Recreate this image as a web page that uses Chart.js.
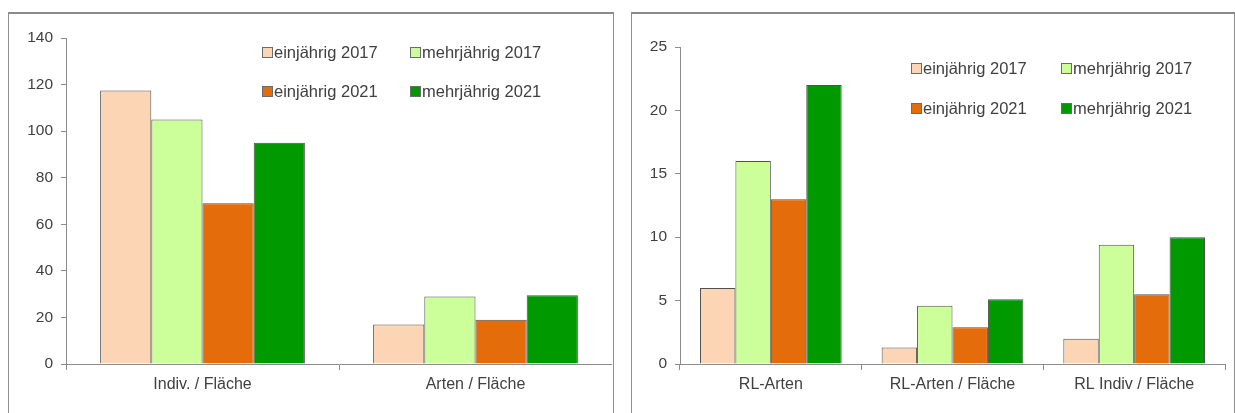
<!DOCTYPE html>
<html>
<head>
<meta charset="utf-8">
<script src="https://cdn.jsdelivr.net/npm/chart.js@4"></script>
<style>
  html, body { margin: 0; padding: 0; background: #fff; width: 1235px; height: 413px; overflow: hidden; }
  .frame { position: absolute; border: 1px solid #8f8f8f; border-top: 2px solid #8a8a8a; background: #fff; }
  .cv { position: absolute; }
  .legend { position: absolute; font-family: "Liberation Sans", Arial, sans-serif; font-size: 16.5px; color: #404040; }
  .legend .item { position: absolute; white-space: nowrap; display: flex; align-items: center; line-height: 20px; }
  .legend .box { width: 9px; height: 9px; border: 1px solid #6b6b6b; margin-right: 1px; }
</style>
</head>
<body>
<div class="frame" style="left:8px; top:12px; width:604px; height:420px;"></div>
<div class="frame" style="left:631px; top:12px; width:602px; height:420px;"></div>
<div class="cv" style="left:10px; top:14px; width:602px; height:400px;"><canvas id="c1"></canvas></div>
<div class="cv" style="left:633px; top:14px; width:600px; height:400px;"><canvas id="c2"></canvas></div>
<div class="legend" id="lg1"></div>
<div class="legend" id="lg2"></div>
<script>
// ---- data ----
const seriesNames = ["einjährig 2017", "mehrjährig 2017", "einjährig 2021", "mehrjährig 2021"];
const seriesColors = ["#FCD5B5", "#CCFF99", "#E46C0A", "#009900"];

const leftCategories = ["Indiv. / Fläche", "Arten / Fläche"];
const leftEinj2017 = [117.5, 17];
const leftMehr2017 = [105, 29];
const leftEinj2021 = [69, 19];
const leftMehr2021 = [95, 29.5];
const leftTicks = [0, 20, 40, 60, 80, 100, 120, 140];

const rightCategories = ["RL-Arten", "RL-Arten / Fläche", "RL Indiv / Fläche"];
const rightEinj2017 = [6, 1.3, 2];
const rightMehr2017 = [16, 4.6, 9.4];
const rightEinj2021 = [13, 2.9, 5.5];
const rightMehr2021 = [22, 5.1, 10];
const rightTicks = [0, 5, 10, 15, 20, 25];

const FONT = "'Liberation Sans', Arial, sans-serif";

function makeDatasets(arrs, catPct) {
  return arrs.map((d, i) => ({
    label: seriesNames[i],
    data: d,
    backgroundColor: seriesColors[i],
    borderColor: "#505050",
    borderWidth: 1,
    borderSkipped: "bottom",
    categoryPercentage: catPct,
    barPercentage: 1.0
  }));
}

function makeChart(id, cats, arrs, ticks, yWidth, pad, catPct) {
  const max = ticks[ticks.length - 1];
  const step = ticks[1] - ticks[0];
  return new Chart(document.getElementById(id), {
    type: "bar",
    data: { labels: cats, datasets: makeDatasets(arrs, catPct) },
    options: {
      responsive: true,
      maintainAspectRatio: false,
      animation: false,
      devicePixelRatio: 1,
      layout: { padding: pad },
      plugins: { legend: { display: false }, tooltip: { enabled: false } },
      scales: {
        x: {
          grid: { display: true, drawOnChartArea: false, drawTicks: true, tickLength: 6, color: "#8c8c8c", offset: true },
          border: { display: true, color: "#8c8c8c", width: 1 },
          ticks: { color: "#404040", font: { family: FONT, size: 16 }, padding: 5 },
          afterFit: s => { s.height = 50; }
        },
        y: {
          min: 0, max: max,
          grid: { display: true, drawOnChartArea: false, drawTicks: true, tickLength: 5, color: "#8c8c8c" },
          border: { display: true, color: "#8c8c8c", width: 1 },
          ticks: { stepSize: step, color: "#404040", font: { family: FONT, size: 15.5 }, padding: 8,
                   callback: v => ticks.includes(v) ? String(v) : null },
          afterFit: s => { s.width = yWidth; }
        }
      }
    }
  });
}

makeChart("c1", leftCategories, [leftEinj2017, leftMehr2017, leftEinj2021, leftMehr2021],
          leftTicks, 56, { top: 24, right: 0, left: 0, bottom: 0 }, 0.75);
makeChart("c2", rightCategories, [rightEinj2017, rightMehr2017, rightEinj2021, rightMehr2021],
          rightTicks, 47, { top: 33, right: 8, left: 0, bottom: 0 }, 0.78);

function buildLegend(id, positions) {
  const el = document.getElementById(id);
  seriesNames.forEach((name, i) => {
    const it = document.createElement("div");
    it.className = "item";
    it.style.left = positions[i][0] + "px";
    it.style.top = positions[i][1] + "px";
    const b = document.createElement("span");
    b.className = "box";
    b.style.background = seriesColors[i];
    const t = document.createElement("span");
    t.textContent = name;
    it.appendChild(b); it.appendChild(t);
    el.appendChild(it);
  });
}
buildLegend("lg1", [[262, 42], [410, 42], [262, 81], [410, 81]]);
buildLegend("lg2", [[911, 58], [1061, 58], [911, 98], [1061, 98]]);
</script>
</body>
</html>
